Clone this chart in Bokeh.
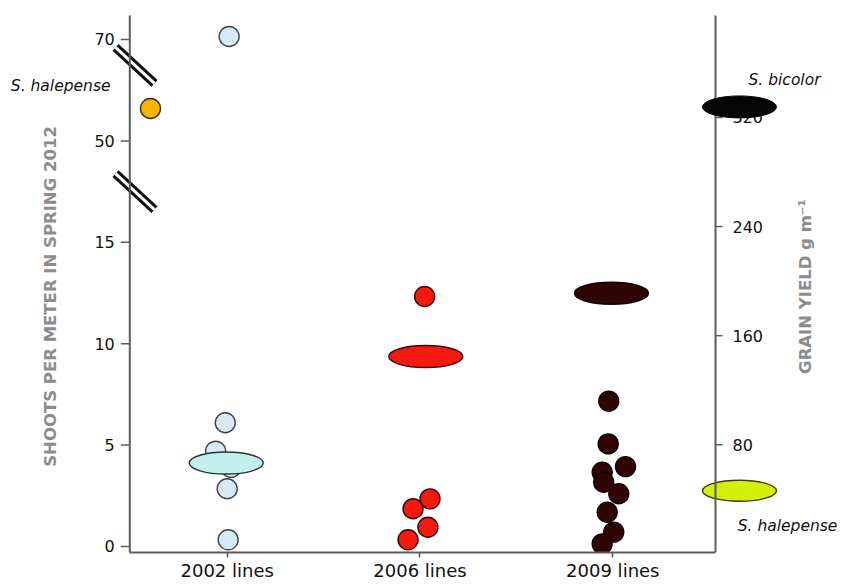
import math
from bokeh.plotting import figure
from bokeh.models import ColumnDataSource, Range1d, LinearAxis, FixedTicker, Label
from bokeh.core.properties import value
from bokeh.embed import file_html
from bokeh.resources import INLINE

# ---------------- data ----------------
categories = ["2002 lines", "2006 lines", "2009 lines"]

# shoots per meter in spring 2012 (left axis), one circle per line
shoots_2002 = [70.6, 6.1, 4.7, 3.9, 2.85, 0.33]
jitter_2002 = [0.01, -0.01, -0.06, 0.02, 0.0, 0.005]
shoots_2006 = [12.33, 2.35, 1.86, 0.95, 0.33]
jitter_2006 = [0.024, 0.052, -0.036, 0.041, -0.062]
shoots_2009 = [7.17, 5.06, 3.94, 3.66, 3.17, 2.6, 1.69, 0.71, 0.13]
jitter_2009 = [-0.021, -0.024, 0.066, -0.055, -0.047, 0.031, -0.029, 0.005, -0.055]
shoots_halepense = [56.4]

# grain yield g m-1 (right axis), ellipses
grain_lines = [66.6, 144.7, 191.1]
grain_lines_jitter = [-0.005, 0.03, -0.007]
grain_bicolor = [327.7]
grain_halepense = [46.3]

shoots_ticks = [0, 5, 10, 15, 50, 70]
grain_ticks = [80, 160, 240, 320]
break_values = [32.5, 64.9]  # where the left axis is broken (shoots units)

# ---------------- layout constants ----------------
W, H = 844, 586
PX_X = 192.8            # pixels per category step
PX_SH = 20.28           # pixels per (display) shoots unit
PX_GR = 1.364           # pixels per grain unit
X_LEFT_AXIS = 0.4948
X_RIGHT_AXIS = 3.5327
X_SIDE = 3.657          # column of the reference species (right)
X_HAL_LEFT = 0.602      # S. halepense shoots marker
SH_TOP = 26.18          # top of the axis lines (display units)
GR_TOP = 394.7          # same height in grain units
FONT = "DejaVu Sans"
AXIS_COLOR = "#5c5c5c"
TITLE_COLOR = "#8c8c8c"


def shoots_to_axis(v):
    """Broken left axis: 0-15 linear, 15-50 and 50-70 compressed segments."""
    if v <= 15:
        return v
    if v <= 50:
        return 15 + (v - 15) * 5.0 / 35.0
    return 20 + (v - 50) * 5.0 / 20.0


p = figure(width=W, height=H, output_backend="svg", toolbar_location=None,
           x_range=Range1d(-0.1758, 4.2018), y_range=Range1d(-0.2959, 26.923),
           x_axis_location=None, y_axis_location=None,
           min_border_left=0, min_border_right=0, min_border_top=0, min_border_bottom=34)
p.extra_y_ranges = {"grain": Range1d(1.026, 405.72)}
p.outline_line_color = None
p.background_fill_color = "white"
p.border_fill_color = "white"
p.grid.visible = False

Y0 = p.y_range.start
G0 = p.extra_y_ranges["grain"].start

# ---------------- bottom axis (real Bokeh axis) ----------------
cat_pos = [i + 1 for i in range(len(categories))]
xb = LinearAxis(bounds=(X_LEFT_AXIS, X_RIGHT_AXIS),
                ticker=FixedTicker(ticks=cat_pos),
                major_label_overrides={pos: c for pos, c in zip(cat_pos, categories)},
                axis_line_color=AXIS_COLOR, axis_line_width=2,
                major_tick_line_color=AXIS_COLOR, major_tick_line_width=1.5,
                major_tick_out=5, major_tick_in=0, minor_tick_out=0, minor_tick_in=0,
                major_label_standoff=2, major_label_text_font=FONT,
                major_label_text_font_size="18px", major_label_text_color="#111111")
p.add_layout(xb, "below")

# ---------------- axis break marks ----------------
bx = X_LEFT_AXIS + 0.027
bys = [shoots_to_axis(b) for b in break_values]
brk = ColumnDataSource(dict(x0=[bx - 0.101] * len(bys), x1=[bx + 0.101] * len(bys),
                            y0=[b + 0.888 for b in bys], y1=[b - 0.888 for b in bys]))
p.segment("x0", "y0", "x1", "y1", source=brk, line_color="#111111", line_width=9, line_cap="butt")
p.segment("x0", "y0", "x1", "y1", source=brk, line_color="white", line_width=3, line_cap="butt")

# S. halepense grain ellipse sits under the right axis line
p.ellipse(x=[X_SIDE], y=grain_halepense, width=74, height=21, width_units="screen",
          height_units="screen", fill_color="#d2f00a", line_color="#3a4000", line_width=1.4,
          y_range_name="grain")

# ---------------- left axis (shoots, broken) ----------------
left_pos = [shoots_to_axis(t) for t in shoots_ticks]
p.segment(x0=[X_LEFT_AXIS], y0=[Y0], x1=[X_LEFT_AXIS], y1=[SH_TOP],
          line_color=AXIS_COLOR, line_width=2)
lt = ColumnDataSource(dict(x0=[X_LEFT_AXIS - 9 / PX_X] * len(left_pos),
                           x1=[X_LEFT_AXIS] * len(left_pos), y=left_pos,
                           lx=[X_LEFT_AXIS - 15 / PX_X] * len(left_pos),
                           txt=[str(t) for t in shoots_ticks]))
p.segment("x0", "y", "x1", "y", source=lt, line_color=AXIS_COLOR, line_width=1.5)
p.text("lx", "y", text="txt", source=lt, text_align="right", text_baseline="middle",
       text_font=value(FONT), text_font_size="16px", text_color="#111111")

# ---------------- right axis (grain yield) ----------------
p.segment(x0=[X_RIGHT_AXIS], y0=[G0], x1=[X_RIGHT_AXIS], y1=[GR_TOP],
          line_color=AXIS_COLOR, line_width=2, y_range_name="grain")
rt = ColumnDataSource(dict(x0=[X_RIGHT_AXIS] * len(grain_ticks),
                           x1=[X_RIGHT_AXIS + 7 / PX_X] * len(grain_ticks), y=grain_ticks,
                           lx=[X_RIGHT_AXIS + 17 / PX_X] * len(grain_ticks),
                           txt=[str(t) for t in grain_ticks]))
p.segment("x0", "y", "x1", "y", source=rt, line_color=AXIS_COLOR, line_width=1.5,
          y_range_name="grain")
p.text("lx", "y", text="txt", source=rt, text_align="left", text_baseline="middle",
       text_font=value(FONT), text_font_size="16px", text_color="#111111",
       y_range_name="grain")

# ---------------- circles (shoots) ----------------
def circles(values, jitter, pos, fill, line):
    src = ColumnDataSource(dict(x=[pos + j for j in jitter],
                                y=[shoots_to_axis(v) for v in values]))
    p.scatter("x", "y", source=src, size=20, fill_color=fill, line_color=line, line_width=1.4)

circles(shoots_2002, jitter_2002, cat_pos[0], "#d8eaf6", "#3d4650")
circles(shoots_2006, jitter_2006, cat_pos[1], "#f51a0f", "#3a0000")
circles(shoots_2009, jitter_2009, cat_pos[2], "#2e0404", "#150000")
circles(shoots_halepense, [0.0], X_HAL_LEFT, "#f5b400", "#3a3000")

# ---------------- ellipses (grain yield) ----------------
ell_fill = ["#c4efef", "#f51a0f", "#2e0404"]
ell_line = ["#2a3333", "#3a0000", "#150000"]
ell = ColumnDataSource(dict(x=[pp + j for pp, j in zip(cat_pos, grain_lines_jitter)],
                            y=grain_lines, fill=ell_fill, line=ell_line))
p.ellipse("x", "y", source=ell, width=74, height=22, width_units="screen", height_units="screen",
          fill_color="fill", line_color="line", line_width=1.4, y_range_name="grain")

p.ellipse(x=[X_SIDE], y=grain_bicolor, width=74, height=22, width_units="screen",
          height_units="screen", fill_color="#050505", line_color="#050505",
          line_width=1, y_range_name="grain")

# ---------------- texts ----------------
def label(text, x, y, rng="default", align="left", angle=0.0, style="italic",
          size="15.5px", color="#111111"):
    kw = dict(x=x, y=y, text=text, x_units="data", y_units="data", text_align=align,
              text_baseline="middle", angle=angle, text_font=FONT, text_font_style=style,
              text_font_size=size, text_color=color)
    if rng != "default":
        kw["y_range_name"] = rng
    p.add_layout(Label(**kw))

label("S. halepense", 0.3947, 22.73, align="right")
label("S. bicolor", 3.704, 347.1, rng="grain")
label("S. halepense", 3.648, 20.8, rng="grain")
label("SHOOTS PER METER IN SPRING 2012", 0.0835, 12.33, align="center",
      angle=math.pi / 2, style="bold", size="16.5px", color=TITLE_COLOR)
label("GRAIN YIELD g m\u207b\u00b9", 3.9995, 196.0, rng="grain", align="center",
      angle=math.pi / 2, style="bold", size="16.5px", color=TITLE_COLOR)

open("out.html", "w").write(file_html(p, INLINE))
